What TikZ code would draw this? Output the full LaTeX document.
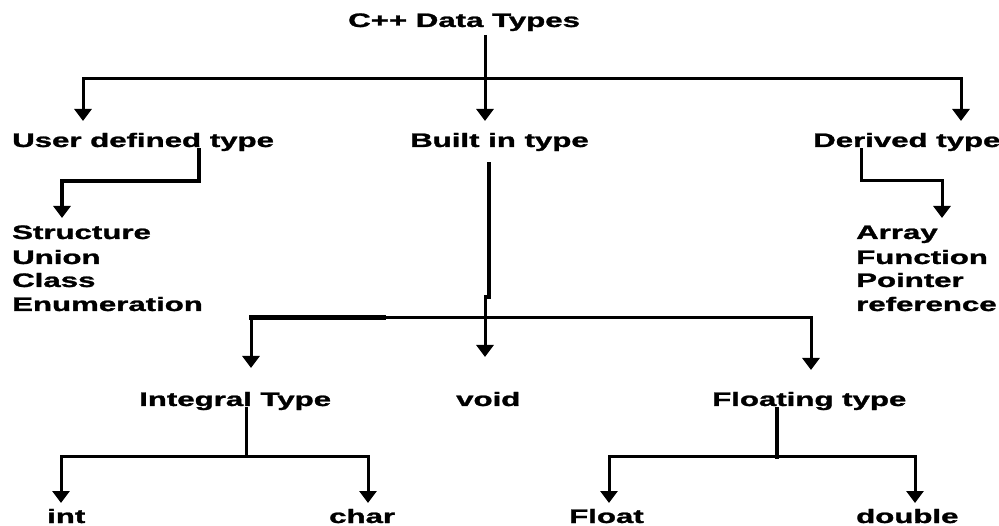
\documentclass[tikz,border=0pt]{standalone}
\usepackage{fontspec}
\setmainfont{Liberation Sans}[BoldFeatures={FakeBold=1.2}]
\usetikzlibrary{arrows.meta,calc}
\newcommand\sx[1]{\scalebox{1.6}[1]{#1}}
\begin{document}
\begin{tikzpicture}[x=1pt,y=-1pt,
  lbl/.style={anchor=base west, inner sep=0pt, font=\fontsize{19.5}{20}\selectfont\bfseries},
  ln/.style={line width=3pt, line cap=rect},
  arr/.style={line width=3pt, -{Triangle[width=17pt,length=12pt]}}]
\useasboundingbox[fill=white] (0,0) rectangle (999,526);
% texts
\node[lbl] (title) at (348,27) {\sx{C++ Data Types}};
\node[lbl] (ud) at (12,147) {\sx{User defined type}};
\node[lbl] (bi) at (410,147) {\sx{Built in type}};
\node[lbl] (dt) at (813,147) {\sx{Derived type}};
\node[lbl] (s1) at (12,239) {\sx{Structure}};
\node[lbl] (s2) at (12,264) {\sx{Union}};
\node[lbl] (s3) at (12,287) {\sx{Class}};
\node[lbl] (s4) at (12,311) {\sx{Enumeration}};
\node[lbl] (d1) at (856,239) {\sx{Array}};
\node[lbl] (d2) at (856,264) {\sx{Function}};
\node[lbl] (d3) at (856,287) {\sx{Pointer}};
\node[lbl] (d4) at (856,311) {\sx{reference}};
\node[lbl] (it) at (139,406) {\sx{Integral Type}};
\node[lbl] (vd) at (456,406) {\sx{void}};
\node[lbl] (ft) at (712,406) {\sx{Floating type}};
\node[lbl] (in) at (47,523) {\sx{int}};
\node[lbl] (ch) at (329,523) {\sx{char}};
\node[lbl] (fl) at (569,523) {\sx{Float}};
\node[lbl] (db) at (856,523) {\sx{double}};
% coordinates
\coordinate (t0) at (485,35);
\coordinate (tL) at (83,79);
\coordinate (tM) at (485,79);
\coordinate (tR) at (961,79);
\coordinate (udA) at (83,121);
\coordinate (biA) at (485,121);
\coordinate (dtA) at (961,121);
\coordinate (u0) at (199,150);
\coordinate (u1) at (199,181);
\coordinate (u2) at (62,181);
\coordinate (uA) at (62,218);
\coordinate (v0) at (861,150);
\coordinate (v1) at (861,181);
\coordinate (v2) at (942,181);
\coordinate (vA) at (942,218);
\coordinate (b0) at (489,164);
\coordinate (b1) at (489,297);
\coordinate (b2) at (485,297);
\coordinate (bL) at (251,318);
\coordinate (bT) at (383,318);
\coordinate (bM) at (485,318);
\coordinate (bR) at (811,318);
\coordinate (itA) at (251,368);
\coordinate (vdA) at (485,357);
\coordinate (ftA) at (811,370);
\coordinate (i0) at (246,409);
\coordinate (i1) at (246,457);
\coordinate (iL) at (61,457);
\coordinate (iR) at (368,457);
\coordinate (inA) at (61,503);
\coordinate (chA) at (368,503);
\coordinate (f0) at (777,409);
\coordinate (f1) at (777,457);
\coordinate (fL) at (609,457);
\coordinate (fR) at (915,457);
\coordinate (flA) at (609,503);
\coordinate (dbA) at (915,503);
% connectors
\draw[ln] (tL) -- (tR);
\draw[arr] (t0) -- (biA);
\draw[arr] (tL) -- (udA);
\draw[arr] (tR) -- (dtA);
\draw[ln, line width=3.5pt] (u0) -- (u1) -- (u2);
\draw[arr, line width=3.5pt] (u2) -- (uA);
\draw[ln] (v0) -- (v1) -- (v2);
\draw[arr] (v2) -- (vA);
\draw[ln, line width=4pt] (b0) -- (b1);
\draw[ln] (b2) -- (bM);
\draw[ln, line width=5pt] (bL) -- (bT);
\draw[ln] (bL) -- (bR);
\draw[arr] (bL) -- (itA);
\draw[arr] (bM) -- (vdA);
\draw[arr] (bR) -- (ftA);
\draw[ln] (i0) -- (i1);
\draw[ln] (iL) -- (iR);
\draw[arr] (iL) -- (inA);
\draw[arr] (iR) -- (chA);
\draw[ln, line width=4pt] (f0) -- (f1);
\draw[ln] (fL) -- (fR);
\draw[arr] (fL) -- (flA);
\draw[arr] (fR) -- (dbA);
\end{tikzpicture}
\end{document}
